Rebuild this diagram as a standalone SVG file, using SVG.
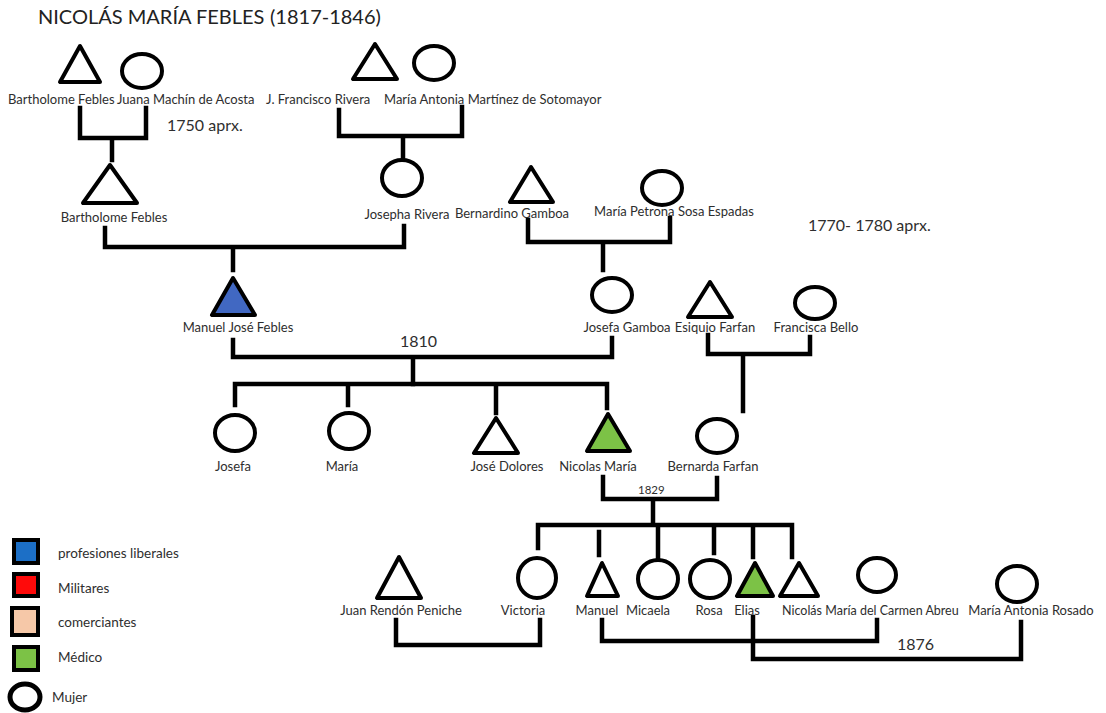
<svg xmlns="http://www.w3.org/2000/svg" width="1106" height="713" viewBox="0 0 1106 713">
  <style>
    .bg { fill: #ffffff; }
    .sym { fill: #ffffff; stroke: #000; stroke-width: 4; stroke-linejoin: round; }
    .liberal { fill: #4168c2; }
    .medico { fill: #7cc246; }
    .link { fill: none; stroke: #000; stroke-width: 4.5; stroke-linecap: square; stroke-linejoin: miter; }
    .lbl { font-family: Lato, "Liberation Sans", sans-serif; font-size: 13px; fill: #2e2e2e; text-anchor: middle; }
    .start { text-anchor: start; }
    .key-lbl { font-size: 13.5px; }
    .tight { font-size: 12.5px; }
    .note { font-family: Lato, "Liberation Sans", sans-serif; font-size: 16px; fill: #2e2e2e; }
    .small { font-family: Lato, "Liberation Sans", sans-serif; font-size: 11.5px; fill: #2e2e2e; }
    .title { font-family: Lato, "Liberation Sans", sans-serif; font-size: 20px; fill: #222; }
    .key { stroke: #000; stroke-width: 4; }
  </style>

  <rect class="bg" x="0" y="0" width="1106" height="713"/>

  <text class="title" x="38" y="24">NICOLÁS MARÍA FEBLES</text>
  <text class="title" x="270" y="24" font-size="13.5">(1817-1846)</text>

  <!-- connectors -->
  <g id="connectors">
    <path class="link" d="M80,108 V138 H146 V108 M112,138 V160"/>
    <path class="link" d="M339,110 V136 H462 V107 M403,136 V158"/>
    <path class="link" d="M105,228 V247 H404 V226 M233,247 V270"/>
    <path class="link" d="M528,220 V242 H670 V218 M603,242 V270"/>
    <path class="link" d="M233,340 V357 H612 V338 M413,357 V384"/>
    <path class="link" d="M235,405 V384 H607 V408 M348,384 V405 M496,384 V413"/>
    <path class="link" d="M708,335 V354 H810 V337 M743,354 V411"/>
    <path class="link" d="M603,477 V499 H717 V478 M653,499 V524"/>
    <path class="link" d="M538,548 V525 H792 V557 M599,532 V555 M658,525 V557 M714,525 V553 M753,525 V557"/>
    <path class="link" d="M396,620 V645 H540 V620"/>
    <path class="link" d="M602,620 V641 H877 V620"/>
    <path class="link" d="M753,617 V659 H1021 V622"/>
  </g>

  <!-- year notes -->
  <text class="note" x="167" y="131">1750 aprx.</text>
  <text class="note" x="808" y="231">1770- 1780 aprx.</text>
  <text class="note" x="400" y="347">1810</text>
  <text class="small" x="638" y="494">1829</text>
  <text class="note" x="897" y="650" font-size="15">1876</text>

  <!-- first generation -->
  <g id="bartholome-febles-sr">
    <polygon class="sym" points="80,46 60,82 100,82"/>
    <text class="lbl start" x="8" y="104">Bartholome Febles</text>
  </g>
  <g id="juana-machin">
    <ellipse class="sym" cx="142" cy="71" rx="20" ry="17"/>
    <text class="lbl start" x="117" y="104">Juana Machín de Acosta</text>
  </g>
  <g id="francisco-rivera">
    <polygon class="sym" points="375,44 353,79 397,79"/>
    <text class="lbl start" x="266" y="104">J. Francisco Rivera</text>
  </g>
  <g id="maria-antonia-martinez">
    <ellipse class="sym" cx="434" cy="63" rx="20" ry="17"/>
    <text class="lbl start" x="384" y="104">María Antonia Martínez de Sotomayor</text>
  </g>

  <!-- second generation -->
  <g id="bartholome-febles">
    <polygon class="sym" points="110,165 83,203 137,203"/>
    <text class="lbl" x="114" y="222">Bartholome Febles</text>
  </g>
  <g id="josepha-rivera">
    <ellipse class="sym" cx="402" cy="178" rx="20" ry="18"/>
    <text class="lbl" x="407" y="219">Josepha Rivera</text>
  </g>
  <g id="bernardino-gamboa">
    <polygon class="sym" points="531,167 510,202 553,202"/>
    <text class="lbl" x="512" y="218">Bernardino Gamboa</text>
  </g>
  <g id="maria-petrona">
    <ellipse class="sym" cx="662" cy="188" rx="20" ry="17"/>
    <text class="lbl" x="674" y="216">María Petrona Sosa Espadas</text>
  </g>

  <!-- third generation -->
  <g id="manuel-jose-febles">
    <polygon class="sym liberal" points="233,278 212,315 255,315"/>
    <text class="lbl" x="238" y="332">Manuel José Febles</text>
  </g>
  <g id="josefa-gamboa">
    <ellipse class="sym" cx="612" cy="295" rx="20" ry="17"/>
    <text class="lbl" x="627" y="332">Josefa Gamboa</text>
  </g>
  <g id="esiquio-farfan">
    <polygon class="sym" points="710,282 688,317 732,317"/>
    <text class="lbl" x="715" y="332">Esiquio Farfan</text>
  </g>
  <g id="francisca-bello">
    <ellipse class="sym" cx="815" cy="303" rx="20" ry="16"/>
    <text class="lbl" x="816" y="332">Francisca Bello</text>
  </g>

  <!-- children of 1810 -->
  <g id="josefa">
    <ellipse class="sym" cx="235" cy="433" rx="20" ry="18"/>
    <text class="lbl" x="233" y="471">Josefa</text>
  </g>
  <g id="maria">
    <ellipse class="sym" cx="349" cy="431" rx="20" ry="18"/>
    <text class="lbl" x="342" y="471">María</text>
  </g>
  <g id="jose-dolores">
    <polygon class="sym" points="496,418 474,453 518,453"/>
    <text class="lbl" x="507" y="471">José Dolores</text>
  </g>
  <g id="nicolas-maria">
    <polygon class="sym medico" points="608,414 587,451 630,451"/>
    <text class="lbl" x="598" y="471">Nicolas María</text>
  </g>
  <g id="bernarda-farfan">
    <ellipse class="sym" cx="717" cy="436" rx="20" ry="17"/>
    <text class="lbl" x="713" y="471">Bernarda Farfan</text>
  </g>

  <!-- children of 1829 and spouses -->
  <g id="juan-rendon">
    <polygon class="sym" points="399,557 377,598 421,598"/>
    <text class="lbl" x="401" y="615">Juan Rendón Peniche</text>
  </g>
  <g id="victoria">
    <ellipse class="sym" cx="537" cy="578" rx="19" ry="20"/>
    <text class="lbl" x="523" y="615">Victoria</text>
  </g>
  <g id="manuel">
    <polygon class="sym" points="602,563 587,596 618,596"/>
    <text class="lbl" x="597" y="615">Manuel</text>
  </g>
  <g id="micaela">
    <ellipse class="sym" cx="658" cy="579" rx="20" ry="19"/>
    <text class="lbl" x="648" y="615">Micaela</text>
  </g>
  <g id="rosa">
    <ellipse class="sym" cx="710" cy="579" rx="20" ry="19"/>
    <text class="lbl" x="709" y="615">Rosa</text>
  </g>
  <g id="elias">
    <polygon class="sym medico" points="755,563 737,596 773,596"/>
    <text class="lbl" x="747" y="615">Elias</text>
  </g>
  <g id="nicolas">
    <polygon class="sym" points="799,563 780,596 818,596"/>
    <text class="lbl tight" x="802" y="615">Nicolás</text>
  </g>
  <g id="maria-carmen-abreu">
    <ellipse class="sym" cx="877" cy="575" rx="19" ry="17"/>
    <text class="lbl tight" x="892" y="615">María del Carmen Abreu</text>
  </g>
  <g id="maria-antonia-rosado">
    <ellipse class="sym" cx="1017" cy="584" rx="20" ry="18"/>
    <text class="lbl" x="1031" y="615">María Antonia Rosado</text>
  </g>

  <!-- legend -->
  <g id="legend">
    <rect class="key" x="14" y="540" width="24" height="23" fill="#1c6fc6"/>
    <text class="lbl start key-lbl" x="58" y="558">profesiones liberales</text>
    <rect class="key" x="14" y="574" width="24" height="22" fill="#ff0a0a"/>
    <text class="lbl start key-lbl" x="58" y="593">Militares</text>
    <rect class="key" x="12" y="608" width="26" height="27" fill="#f6c8a8"/>
    <text class="lbl start key-lbl" x="58" y="627">comerciantes</text>
    <rect class="key" x="14" y="647" width="24" height="23" fill="#7cc246"/>
    <text class="lbl start key-lbl" x="58" y="662">Médico</text>
    <ellipse cx="25" cy="697" rx="15" ry="13" fill="#fff" stroke="#000" stroke-width="5"/>
    <text class="lbl start key-lbl" x="52" y="702">Mujer</text>
  </g>
</svg>
